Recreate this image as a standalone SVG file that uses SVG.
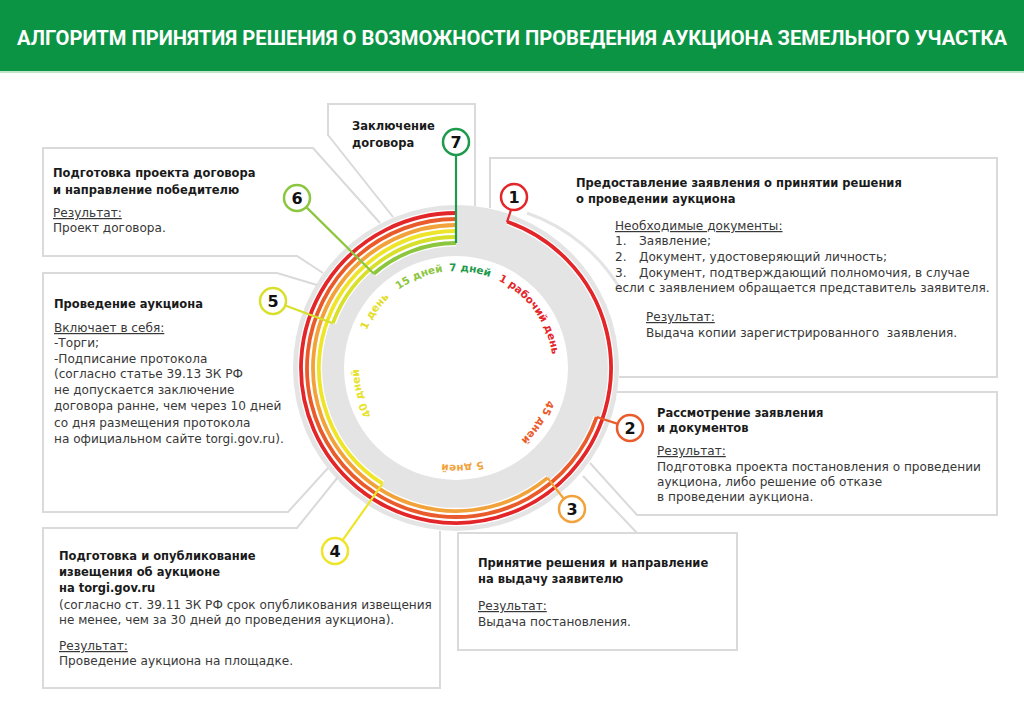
<svg xmlns="http://www.w3.org/2000/svg" width="1024" height="723" viewBox="0 0 1024 723">
<style>
.box{fill:none;stroke:#dadada;stroke-width:2}
.hb{font-family:"DejaVu Sans","Noto Sans",sans-serif;font-weight:bold;font-size:11.5px;fill:#1a1a1a}
.tx{font-family:"DejaVu Sans","Noto Sans",sans-serif;font-size:12.1px;fill:#383838}
.ul{text-decoration:underline}
.mk{fill:#fff;stroke-width:2.5}
.mn{font-family:"DejaVu Sans",sans-serif;font-weight:bold;font-size:16px;fill:#111;text-anchor:middle}
.arc{fill:none;stroke-width:3.8}
.gap{fill:none;stroke:#fff;stroke-width:6.4}
.con{fill:none;stroke-width:2.2}
.lbl{font-family:"DejaVu Sans",sans-serif;font-weight:bold;font-size:10.5px;text-anchor:middle}
</style>
<defs>
<path id="lp" d="M 400.36 447.46 A 97 97 0 1 1 511.64 288.54 A 97 97 0 1 1 400.36 447.46"/>
</defs>
<rect x="0" y="0" width="1024" height="723" fill="#fff"/>
<g id="header">
<rect x="0" y="0" width="1024" height="71" fill="#0b9444"/>
<rect x="0" y="71" width="1024" height="2" fill="#bfe6cd"/>
<text x="17" y="45" font-family="'Liberation Sans Narrow','Roboto',sans-serif" font-weight="bold" font-size="20" fill="#fff" textLength="990" lengthAdjust="spacingAndGlyphs">АЛГОРИТМ ПРИНЯТИЯ РЕШЕНИЯ О ВОЗМОЖНОСТИ ПРОВЕДЕНИЯ АУКЦИОНА ЗЕМЕЛЬНОГО УЧАСТКА</text>
</g>
<g id="ring">
<circle cx="456" cy="368" r="163" fill="#e4e4e4"/>
<circle cx="456" cy="368" r="112" fill="#fff"/>
<path d="M 527 213 A 175 175 0 0 1 622 292" fill="none" stroke="#e4e4e4" stroke-width="3"/>
</g>
<g id="boxes">
<polyline class="box" points="490,208 490,158 997,158 997,377 619,377"/>
<polyline class="box" points="617,392 997,392 997,515 637,515 590,463"/>
<polyline class="box" points="583,476 637,533 737,533 737,650 458,650 458,533 637,533"/>
<polyline class="box" points="338,477 297,528 43,528 43,688 440,688 440,531"/>
<polyline class="box" points="328,468 288,512 43,512 43,273 277,273 317,285"/>
<polyline class="box" points="323,273 297,256 43,256 43,148 313,148 380,223"/>
<polyline class="box" points="393,217 328,135 328,104 475,104 475,206"/>
</g>
<g id="connectors">
<path class="gap" d="M 507.2 221.7 A 155 155 0 1 1 456 213"/>
<path class="gap" d="M 596.7 417 A 149 149 0 1 1 456 219"/>
<path class="gap" d="M 547.5 477.9 A 143 143 0 1 1 456 225"/>
<path class="gap" d="M 382.6 483.7 A 137 137 0 0 1 456 231"/>
<path class="gap" d="M 332.9 323.2 A 131 131 0 0 1 456 237"/>
<path class="gap" d="M 373.8 273.8 A 125 125 0 0 1 456 243"/>
<path class="arc" stroke="#e3262a" d="M 507.2 221.7 A 155 155 0 1 1 456 213"/>
<path class="arc" stroke="#ea5b2c" d="M 596.7 417 A 149 149 0 1 1 456 219"/>
<path class="arc" stroke="#f2a23a" d="M 547.5 477.9 A 143 143 0 1 1 456 225"/>
<path class="arc" stroke="#eee52a" d="M 382.6 483.7 A 137 137 0 0 1 456 231"/>
<path class="arc" stroke="#d8e02c" d="M 332.9 323.2 A 131 131 0 0 1 456 237"/>
<path class="arc" stroke="#8cc63f" d="M 373.8 273.8 A 125 125 0 0 1 456 243"/>
<polyline class="con" stroke="#e3262a" points="511,210 507,222"/>
<line class="con" stroke="#ea5b2c" x1="617.7" y1="423.9" x2="596.7" y2="417"/>
<line class="con" stroke="#f2a23a" x1="564" y1="499" x2="547.5" y2="477.9"/>
<line class="con" stroke="#eee52a" x1="342.5" y1="540.4" x2="382.6" y2="483.7"/>
<line class="con" stroke="#d8e02c" x1="285.2" y1="305.5" x2="332.9" y2="323.2"/>
<line class="con" stroke="#8cc63f" x1="306.3" y1="207.1" x2="373.8" y2="273.8"/>
<line class="con" stroke="#1e9a4c" x1="456" y1="155" x2="456" y2="243"/>
</g>
<g id="labels">
<text class="lbl" fill="#e8e22a"><textPath href="#lp" startOffset="67.7">40 дней</textPath></text>
<text class="lbl" fill="#e3dd2a"><textPath href="#lp" startOffset="151.9">1 день</textPath></text>
<text class="lbl" fill="#8cc63f"><textPath href="#lp" startOffset="207.9">15 дней</textPath></text>
<text class="lbl" fill="#1e9a4c"><textPath href="#lp" startOffset="258.9">7 дней</textPath></text>
<text class="lbl" fill="#e3262a"><textPath href="#lp" startOffset="336.2">1 рабочий день</textPath></text>
<text class="lbl" fill="#ea5b2c"><textPath href="#lp" startOffset="454.1">45 дней</textPath></text>
<text class="lbl" fill="#f2a23a"><textPath href="#lp" startOffset="543.1">5 дней</textPath></text>
</g>
<g id="node1">
<circle class="mk" cx="514" cy="197" r="13" stroke="#e3262a"/>
<text class="mn" x="514" y="203">1</text>
<text class="hb" x="576" y="187">Предоставление заявления о принятии решения</text>
<text class="hb" x="576" y="203">о проведении аукциона</text>
<text class="tx ul" x="615" y="230">Необходимые документы:</text>
<text class="tx" x="615" y="245">1.<tspan x="639">Заявление;</tspan></text>
<text class="tx" x="615" y="261">2.<tspan x="639">Документ, удостоверяющий личность;</tspan></text>
<text class="tx" x="615" y="277">3.<tspan x="639">Документ, подтверждающий полномочия, в случае</tspan></text>
<text class="tx" x="615" y="292">если с заявлением обращается представитель заявителя.</text>
<text class="tx ul" x="646" y="321">Результат:</text>
<text class="tx" x="646" y="337">Выдача копии зарегистрированного&#160; заявления.</text>
</g>
<g id="node2">
<circle class="mk" cx="630" cy="428" r="13" stroke="#ea5b2c"/>
<text class="mn" x="630" y="434">2</text>
<text class="hb" x="657" y="417">Рассмотрение заявления</text>
<text class="hb" x="657" y="432">и документов</text>
<text class="tx ul" x="657" y="455">Результат:</text>
<text class="tx" x="657" y="471">Подготовка проекта постановления о проведении</text>
<text class="tx" x="657" y="486">аукциона, либо решение об отказе</text>
<text class="tx" x="657" y="501">в проведении аукциона.</text>
</g>
<g id="node3">
<circle class="mk" cx="572" cy="509" r="13" stroke="#f2a23a"/>
<text class="mn" x="572" y="515">3</text>
<text class="hb" x="478" y="567">Принятие решения и направление</text>
<text class="hb" x="478" y="583">на выдачу заявителю</text>
<text class="tx ul" x="478" y="610">Результат:</text>
<text class="tx" x="478" y="626">Выдача постановления.</text>
</g>
<g id="node4">
<circle class="mk" cx="335" cy="551" r="13" stroke="#eee52a"/>
<text class="mn" x="335" y="557">4</text>
<text class="hb" x="59" y="560">Подготовка и опубликование</text>
<text class="hb" x="59" y="576">извещения об аукционе</text>
<text class="hb" x="59" y="592">на torgi.gov.ru</text>
<text class="tx" x="59" y="609">(согласно ст. 39.11 ЗК РФ срок опубликования извещения</text>
<text class="tx" x="59" y="624">не менее, чем за 30 дней до проведения аукциона).</text>
<text class="tx ul" x="59" y="650">Результат:</text>
<text class="tx" x="59" y="665">Проведение аукциона на площадке.</text>
</g>
<g id="node5">
<circle class="mk" cx="273" cy="301" r="13" stroke="#d8e02c"/>
<text class="mn" x="273" y="307">5</text>
<text class="hb" x="54" y="308">Проведение аукциона</text>
<text class="tx ul" x="54" y="332">Включает в себя:</text>
<text class="tx" x="54" y="347">-Торги;</text>
<text class="tx" x="54" y="363">-Подписание протокола</text>
<text class="tx" x="54" y="378">(согласно статье 39.13 ЗК РФ</text>
<text class="tx" x="54" y="394">не допускается заключение</text>
<text class="tx" x="54" y="410">договора ранне, чем через 10 дней</text>
<text class="tx" x="54" y="427">со дня размещения протокола</text>
<text class="tx" x="54" y="443">на официальном сайте torgi.gov.ru).</text>
</g>
<g id="node6">
<circle class="mk" cx="297" cy="198" r="13" stroke="#8cc63f"/>
<text class="mn" x="297" y="204">6</text>
<text class="hb" x="53" y="177">Подготовка проекта договора</text>
<text class="hb" x="53" y="194">и направление победителю</text>
<text class="tx ul" x="53" y="217">Результат:</text>
<text class="tx" x="53" y="232">Проект договора.</text>
</g>
<g id="node7">
<circle class="mk" cx="456" cy="142" r="13" stroke="#1e9a4c"/>
<text class="mn" x="456" y="148">7</text>
<text class="hb" x="352" y="130">Заключение</text>
<text class="hb" x="352" y="147">договора</text>
</g>
</svg>
